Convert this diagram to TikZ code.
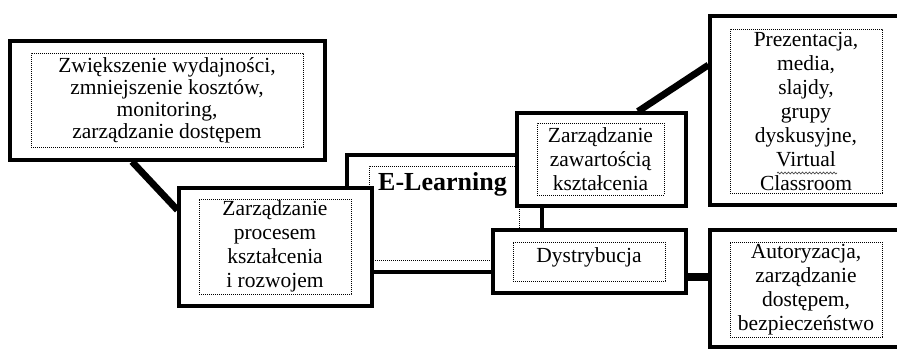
\documentclass[tikz,border=0pt]{standalone}
\usepackage{fontspec}
\setmainfont{Liberation Serif}
\usetikzlibrary{decorations.pathmorphing}
\tikzset{
  outerbox/.style={draw, line width=3.2pt, fill=white, inner sep=0pt},
  innerbox/.style={draw, line width=0.9pt, dash pattern=on 0.9pt off 1.1pt,
    inner sep=0pt, align=center, font=\fontsize{21.5}{24}\selectfont},
  link/.style={line width=6.8pt},
  squiggle/.style={gray!60!black, line width=0.7pt, decorate,
    decoration={snake, amplitude=0.9pt, segment length=3.5pt}}
}
\begin{document}
\begin{tikzpicture}[x=1pt, y=-1pt]
  \clip (0,0) rectangle (897,350);

  % central E-Learning box
  \node[outerbox, minimum width=195, minimum height=117] (el) at (444.5,213.5) {};
  \node[innerbox, minimum width=150, minimum height=94] (el-in) at (444,213) {};
  \node[anchor=base west, inner sep=0pt, font=\fontsize{26}{28}\selectfont\bfseries]
    (el-label) at (378,190) {E-Learning};

  % left branch
  \node[outerbox, minimum width=315, minimum height=119] (goal) at (167.5,100.5) {};
  \node[innerbox, minimum width=272, minimum height=94, font=\fontsize{21.5}{22}\selectfont]
    (goal-in) at (167,100)
    {Zwiększenie wydajności,\\zmniejszenie kosztów,\\monitoring,\\zarządzanie dostępem};

  \node[outerbox, minimum width=193, minimum height=118] (proc) at (275.5,247) {};
  \node[innerbox, minimum width=152, minimum height=95] (proc-in) at (275,246.5)
    {Zarządzanie\\procesem\\kształcenia\\i rozwojem};

  % right branch
  \node[outerbox, minimum width=169, minimum height=93] (cont) at (601.5,159.5) {};
  \node[innerbox, minimum width=127, minimum height=72] (cont-in) at (600.5,159)
    {Zarządzanie\\zawartością\\kształcenia};

  \node[outerbox, minimum width=193, minimum height=63] (dist) at (589.5,261.5) {};
  \node[innerbox, minimum width=152, minimum height=39] (dist-in) at (589,261.5)
    {\raisebox{4pt}[\height][\depth]{Dystrybucja}};

  \node[outerbox, minimum width=194, minimum height=189] (pres) at (807,110.5) {};
  \node[innerbox, minimum width=152, minimum height=164] (pres-in) at (806,111)
    {Prezentacja,\\media,\\slajdy,\\grupy\\dyskusyjne,\\Virtual\\Classroom};

  \node[outerbox, minimum width=194, minimum height=117] (auth) at (807,288.5) {};
  \node[innerbox, minimum width=152, minimum height=95] (auth-in) at (806,289.5)
    {Autoryzacja,\\zarządzanie\\dostępem,\\bezpieczeństwo};

  % spell-check squiggle under "Virtual"
  \draw[squiggle] (777,173) -- (837,173);

  % connectors
  \draw[link] (goal.south -| 132,0) -- (proc.west |- 0,210);
  \draw[link] (cont.north -| 638,0) -- (pres.west |- 0,65);
  \draw[link, line width=8pt] (dist.east |- 0,277) -- (auth.west |- 0,277);
\end{tikzpicture}
\end{document}
